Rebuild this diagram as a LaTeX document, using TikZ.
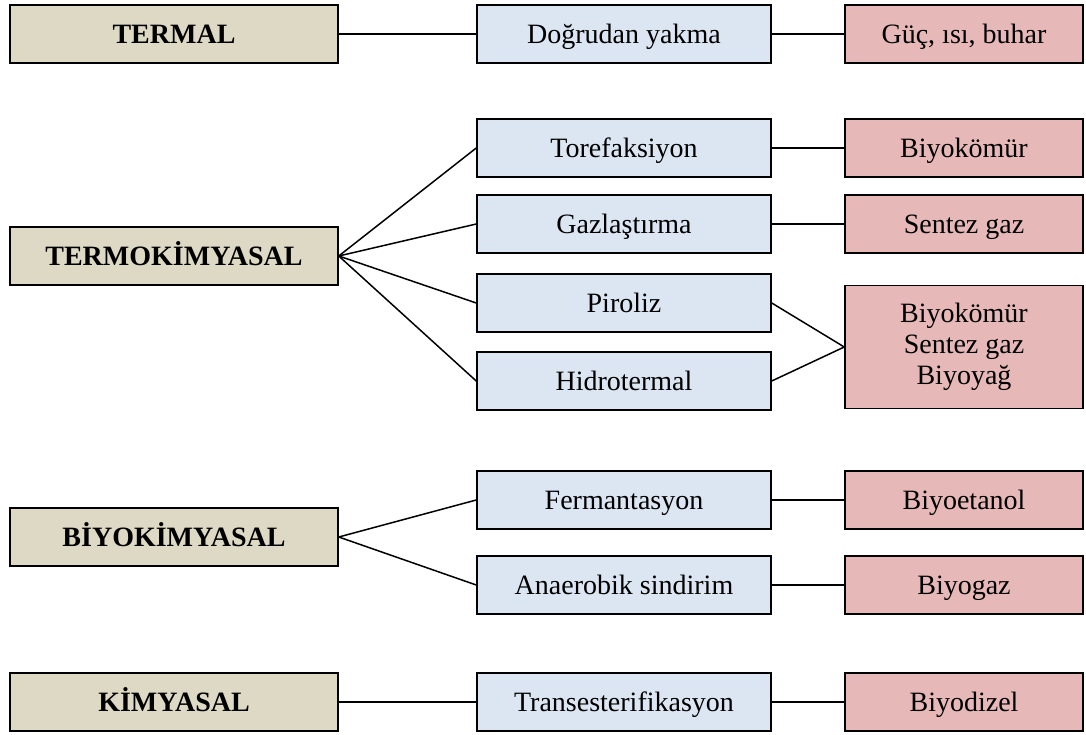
\documentclass[tikz,border=0pt]{standalone}
\usepackage{fontspec}
\setmainfont{Liberation Serif}
\definecolor{tanfill}{HTML}{DDD9C4}
\definecolor{bluefill}{HTML}{DCE6F2}
\definecolor{pinkfill}{HTML}{E6B9B8}
\begin{document}
\begin{tikzpicture}[x=1bp,y=-1bp,
  box/.style={draw=black,line width=1.5bp,inner sep=0pt,align=center,
    font=\fontsize{28bp}{31bp}\selectfont},
  one/.style={text height=18.5bp,text depth=0bp},
  cat/.style={box,one,fill=tanfill,minimum width=328bp,minimum height=58bp,
    font=\fontsize{28bp}{31bp}\selectfont\bfseries},
  proc/.style={box,one,fill=bluefill,minimum width=294bp,minimum height=58bp},
  prod/.style={box,fill=pinkfill,minimum width=238bp,minimum height=58bp},
  link/.style={line width=1.5bp,draw=black}]
\useasboundingbox (0,0) rectangle (1086,735);
% categories
\node[cat] (termal) at (174,34) {TERMAL};
\node[cat] (termo) at (174,256) {TERMOKİMYASAL};
\node[cat] (biyo) at (174,537) {BİYOKİMYASAL};
\node[cat] (kim) at (174,702) {KİMYASAL};
% processes
\node[proc] (dogru) at (624,34) {Doğrudan yakma};
\node[proc] (tore) at (624,148) {Torefaksiyon};
\node[proc] (gaz) at (624,224) {Gazlaştırma};
\node[proc] (piro) at (624,303) {Piroliz};
\node[proc] (hidro) at (624,381) {Hidrotermal};
\node[proc] (ferm) at (624,500) {Fermantasyon};
\node[proc] (anae) at (624,585) {Anaerobik sindirim};
\node[proc] (trans) at (624,702) {Transesterifikasyon};
% products
\node[prod,one] (guc) at (964,34) {Güç, ısı, buhar};
\node[prod,one] (bk) at (964,148) {Biyokömür};
\node[prod,one] (sg) at (964,224) {Sentez gaz};
\node[prod,minimum height=123bp] (mix) at (964,347) {Biyokömür\\Sentez gaz\\Biyoyağ};
\node[prod,one] (etanol) at (964,500) {Biyoetanol};
\node[prod,one] (biogaz) at (964,585) {Biyogaz};
\node[prod,one] (dizel) at (964,702) {Biyodizel};
% connectors
\draw[link] (termal.east) -- (dogru.west);
\draw[link] (dogru.east) -- (guc.west);
\draw[link] (termo.east) -- (tore.west);
\draw[link] (termo.east) -- (gaz.west);
\draw[link] (termo.east) -- (piro.west);
\draw[link] (termo.east) -- (hidro.west);
\draw[link] (tore.east) -- (bk.west);
\draw[link] (gaz.east) -- (sg.west);
\draw[link] (piro.east) -- (mix.west);
\draw[link] (hidro.east) -- (mix.west);
\draw[link] (biyo.east) -- (ferm.west);
\draw[link] (biyo.east) -- (anae.west);
\draw[link] (ferm.east) -- (etanol.west);
\draw[link] (anae.east) -- (biogaz.west);
\draw[link] (kim.east) -- (trans.west);
\draw[link] (trans.east) -- (dizel.west);
\end{tikzpicture}
\end{document}
